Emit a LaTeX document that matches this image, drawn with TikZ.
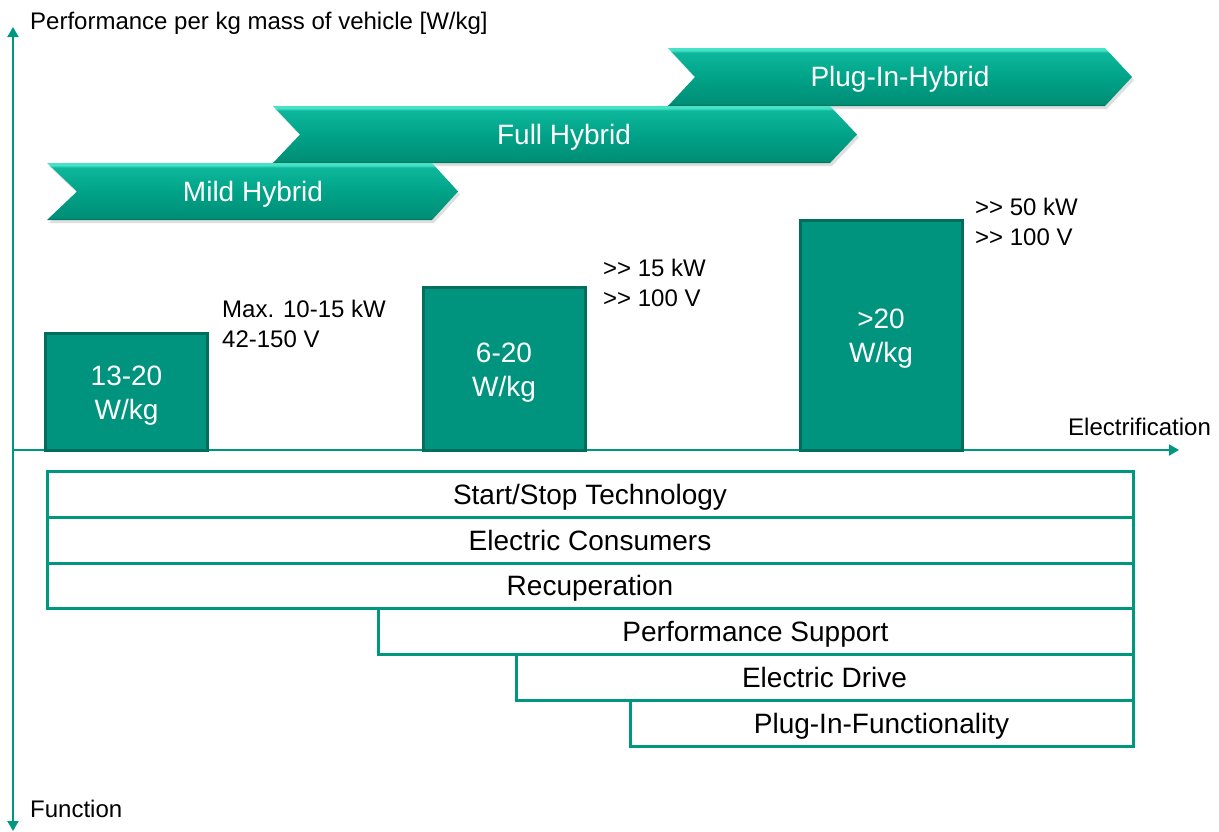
\documentclass[tikz,border=0pt]{standalone}
\usepackage{fontspec}
\setmainfont{Liberation Sans}
\usetikzlibrary{arrows.meta,shadows}
\definecolor{tealline}{HTML}{00977F}
\definecolor{boxfill}{HTML}{00947E}
\definecolor{boxedge}{HTML}{006E5C}
\definecolor{chdk}{HTML}{006B58}
\definecolor{chlo}{HTML}{008E76}
\definecolor{chmid}{HTML}{00A388}
\definecolor{chhi}{HTML}{0DB79B}
\definecolor{chlt}{HTML}{45E2C6}
\pgfdeclareverticalshading{chevsh}{100bp}{color(0bp)=(chdk); color(25bp)=(chdk); color(27bp)=(chlo); color(50bp)=(chmid); color(71bp)=(chhi); color(73bp)=(chlt); color(75bp)=(chlt); color(100bp)=(chlt)}
\tikzset{
  chev/.style={shading=chevsh, drop shadow={opacity=0.25, shadow xshift=2pt, shadow yshift=-3pt}},
  chevtext/.style={text=white, font=\fontsize{28}{34}\selectfont, anchor=base, inner sep=0pt},
  valbox/.style={draw=boxedge, line width=3pt, fill=boxfill, inner sep=0pt, minimum width=162pt},
  valtext/.style={text=white, align=center, font=\fontsize{28}{34}\selectfont, inner sep=0pt},
  note/.style={font=\fontsize{24}{30}\selectfont, align=left, anchor=north west, inner sep=0pt},
  axlabel/.style={font=\fontsize{24}{30}\selectfont, anchor=base west, inner sep=0pt},
  bar/.style={draw=tealline, line width=3pt, fill=white, inner sep=0pt,
    text height=20pt, text depth=0pt, font=\fontsize{28}{34}\selectfont},
  axis/.style={draw=tealline, line width=2pt}
}
\begin{document}
\begin{tikzpicture}[x=1pt,y=-1pt]
\useasboundingbox (0,0) rectangle (1219,831);
% axes
\coordinate (vtop) at (13,27);
\coordinate (vbot) at (13,831);
\coordinate (horig) at (13,450);
\coordinate (hend) at (1179,450);
\draw[axis, {Triangle[width=11pt,length=10pt]}-{Triangle[width=11pt,length=10pt]}] (vbot) -- (vtop);
\draw[axis, -{Triangle[width=11pt,length=10pt]}] (horig) -- (hend);
\node[axlabel] (ylab) at (30,29) {Performance per kg mass of vehicle [W/kg]};
\node[axlabel] (xlab) at (1068,435) {Electrification};
\node[axlabel] (flab) at (30,817) {Function};
% chevrons
\path[chev] (668,48) -- (1105,48) -- (1132,77) -- (1105,106) -- (668,106) -- (695,77) -- cycle;
\node[chevtext] (plug) at (900,86) {Plug-In-Hybrid};
\path[chev] (273,106) -- (830,106) -- (857,134.5) -- (830,163) -- (273,163) -- (300,134.5) -- cycle;
\node[chevtext] (full) at (564,144) {Full Hybrid};
\path[chev] (47,163) -- (432,163) -- (458,191.5) -- (432,220) -- (47,220) -- (77,191.5) -- cycle;
\node[chevtext] (mild) at (253,201) {Mild Hybrid};
% value boxes
\node[valbox, minimum height=117pt] (b1) at (126.5,391.5) {};
\node[valtext] (t1) at (126.5,396) {13-20\\W/kg};
\node[valbox, minimum height=163pt] (b2) at (504,368.5) {};
\node[valtext] (t2) at (504,372.5) {6-20\\W/kg};
\node[valbox, minimum height=230pt] (b3) at (881,335) {};
\node[valtext] (t3) at (881,338.5) {>20\\W/kg};
% notes
\node[note] (n1) at (222,300) {Max. 10-15 kW\\42-150 V};
\node[note] (n2) at (603,259) {>{}> 15 kW\\>{}> 100 V};
\node[note] (n3) at (975,198) {>{}> 50 kW\\>{}> 100 V};
% function bars
\node[bar, minimum width=1086pt, minimum height=46pt] (f1) at (590,494) {Start/Stop Technology};
\node[bar, minimum width=1086pt, minimum height=46pt] (f2) at (590,540) {Electric Consumers};
\node[bar, minimum width=1086pt, minimum height=45pt] (f3) at (590,585.5) {Recuperation};
\node[bar, minimum width=755pt, minimum height=46pt] (f4) at (755.5,631) {Performance Support};
\node[bar, minimum width=617pt, minimum height=46pt] (f5) at (824.5,677) {Electric Drive};
\node[bar, minimum width=503pt, minimum height=46pt] (f6) at (881.5,723) {Plug-In-Functionality};
\end{tikzpicture}
\end{document}
